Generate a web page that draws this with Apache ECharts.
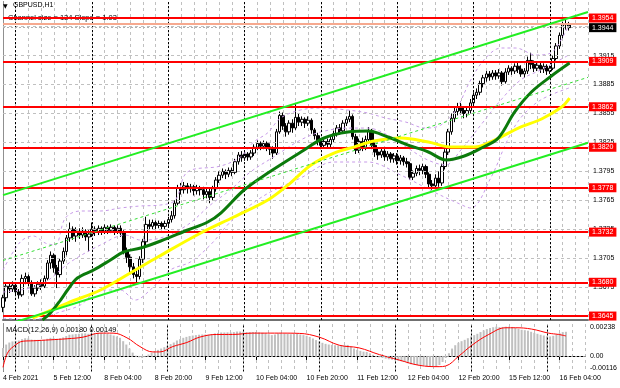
<!DOCTYPE html>
<html><head><meta charset="utf-8">
<script src="https://cdn.jsdelivr.net/npm/echarts@6/dist/echarts.min.js"></script>
<style>html,body{margin:0;padding:0;background:#fff}#c{width:620px;height:388px}</style>
</head><body><div id="c"></div>
<script>
// ---------- DATA ----------
// hourly bars from 4 Feb 2021 20:00 to 16 Feb 2021 06:00 : [open, close, low, high]
const candles = [
[1.3654,1.3664,1.3649,1.3667],[1.3664,1.3676,1.3660,1.3679],[1.3676,1.3673,1.3669,1.3680],[1.3673,1.3677,1.3670,1.3681],
[1.3677,1.3670,1.3666,1.3679],[1.3670,1.3667,1.3663,1.3673],[1.3667,1.3684,1.3665,1.3688],[1.3684,1.3686,1.3678,1.3690],
[1.3686,1.3679,1.3676,1.3688],[1.3679,1.3668,1.3666,1.3682],[1.3668,1.3674,1.3665,1.3677],[1.3674,1.3678,1.3671,1.3681],
[1.3678,1.3676,1.3672,1.3683],[1.3676,1.3684,1.3674,1.3687],[1.3684,1.3700,1.3682,1.3703],[1.3700,1.3708,1.3694,1.3712],
[1.3708,1.3695,1.3690,1.3710],[1.3695,1.3688,1.3674,1.3698],[1.3688,1.3702,1.3685,1.3705],[1.3702,1.3712,1.3699,1.3716],
[1.3712,1.3726,1.3708,1.3729],[1.3726,1.3735,1.3722,1.3742],[1.3735,1.3728,1.3724,1.3738],[1.3728,1.3733,1.3722,1.3737],
[1.3733,1.3729,1.3725,1.3736],[1.3729,1.3733,1.3726,1.3737],[1.3733,1.3727,1.3723,1.3735],[1.3727,1.3730,1.3712,1.3734],
[1.3730,1.3735,1.3727,1.3742],[1.3735,1.3732,1.3728,1.3738],[1.3732,1.3736,1.3729,1.3739],[1.3736,1.3733,1.3729,1.3738],
[1.3733,1.3737,1.3730,1.3740],[1.3737,1.3734,1.3730,1.3739],[1.3734,1.3737,1.3731,1.3740],[1.3737,1.3733,1.3729,1.3739],
[1.3733,1.3736,1.3730,1.3739],[1.3736,1.3731,1.3727,1.3739],[1.3731,1.3712,1.3709,1.3734],[1.3712,1.3706,1.3700,1.3716],
[1.3706,1.3696,1.3690,1.3709],[1.3696,1.3688,1.3684,1.3700],[1.3688,1.3686,1.3680,1.3693],[1.3686,1.3704,1.3683,1.3707],
[1.3704,1.3722,1.3700,1.3725],[1.3722,1.3740,1.3718,1.3748],[1.3740,1.3738,1.3734,1.3745],[1.3738,1.3742,1.3735,1.3745],
[1.3742,1.3739,1.3735,1.3744],[1.3739,1.3741,1.3736,1.3744],[1.3741,1.3738,1.3734,1.3743],[1.3738,1.3741,1.3735,1.3744],
[1.3741,1.3745,1.3738,1.3748],[1.3745,1.3749,1.3742,1.3754],[1.3749,1.3762,1.3746,1.3765],[1.3762,1.3778,1.3760,1.3781],
[1.3778,1.3776,1.3771,1.3783],[1.3776,1.3780,1.3772,1.3784],[1.3780,1.3777,1.3772,1.3783],[1.3777,1.3779,1.3773,1.3782],
[1.3779,1.3775,1.3770,1.3781],[1.3775,1.3778,1.3771,1.3781],[1.3778,1.3776,1.3770,1.3780],[1.3776,1.3771,1.3766,1.3779],
[1.3771,1.3774,1.3767,1.3778],[1.3774,1.3768,1.3762,1.3777],[1.3768,1.3777,1.3765,1.3780],[1.3777,1.3786,1.3774,1.3789],
[1.3786,1.3791,1.3783,1.3795],[1.3791,1.3795,1.3788,1.3798],[1.3795,1.3792,1.3787,1.3797],[1.3792,1.3796,1.3789,1.3799],
[1.3796,1.3794,1.3790,1.3799],[1.3794,1.3805,1.3792,1.3808],[1.3805,1.3812,1.3802,1.3815],[1.3812,1.3809,1.3805,1.3816],
[1.3809,1.3813,1.3806,1.3816],[1.3813,1.3810,1.3806,1.3815],[1.3810,1.3814,1.3807,1.3817],[1.3814,1.3820,1.3811,1.3823],
[1.3820,1.3824,1.3817,1.3827],[1.3824,1.3821,1.3817,1.3826],[1.3821,1.3824,1.3818,1.3827],[1.3824,1.3820,1.3816,1.3826],
[1.3820,1.3818,1.3812,1.3824],[1.3818,1.3814,1.3808,1.3821],[1.3814,1.3836,1.3812,1.3839],[1.3836,1.3853,1.3834,1.3857],
[1.3853,1.3842,1.3838,1.3856],[1.3842,1.3836,1.3831,1.3845],[1.3836,1.3845,1.3833,1.3848],[1.3845,1.3840,1.3835,1.3849],
[1.3840,1.3851,1.3838,1.3866],[1.3851,1.3846,1.3842,1.3855],[1.3846,1.3849,1.3842,1.3852],[1.3849,1.3845,1.3840,1.3851],
[1.3845,1.3848,1.3842,1.3852],[1.3848,1.3838,1.3834,1.3850],[1.3838,1.3832,1.3828,1.3840],[1.3832,1.3826,1.3822,1.3835],
[1.3826,1.3822,1.3818,1.3829],[1.3822,1.3826,1.3819,1.3829],[1.3826,1.3823,1.3819,1.3829],[1.3823,1.3828,1.3820,1.3831],
[1.3828,1.3834,1.3825,1.3837],[1.3834,1.3840,1.3831,1.3843],[1.3840,1.3837,1.3833,1.3844],[1.3837,1.3845,1.3834,1.3848],
[1.3845,1.3849,1.3842,1.3852],[1.3849,1.3852,1.3846,1.3858],[1.3852,1.3831,1.3828,1.3854],[1.3831,1.3817,1.3813,1.3834],
[1.3817,1.3826,1.3814,1.3829],[1.3826,1.3820,1.3816,1.3830],[1.3820,1.3828,1.3817,1.3832],[1.3828,1.3837,1.3825,1.3841],
[1.3837,1.3822,1.3818,1.3839],[1.3822,1.3815,1.3810,1.3825],[1.3815,1.3812,1.3807,1.3819],[1.3812,1.3816,1.3809,1.3819],
[1.3816,1.3810,1.3806,1.3818],[1.3810,1.3813,1.3806,1.3816],[1.3813,1.3808,1.3804,1.3815],[1.3808,1.3811,1.3804,1.3814],
[1.3811,1.3806,1.3802,1.3814],[1.3806,1.3809,1.3802,1.3812],[1.3809,1.3805,1.3801,1.3811],[1.3805,1.3803,1.3799,1.3809],
[1.3803,1.3789,1.3786,1.3805],[1.3789,1.3793,1.3786,1.3796],[1.3793,1.3798,1.3790,1.3801],[1.3798,1.3796,1.3791,1.3802],
[1.3796,1.3800,1.3792,1.3803],[1.3800,1.3792,1.3788,1.3802],[1.3792,1.3782,1.3778,1.3794],[1.3782,1.3780,1.3776,1.3786],
[1.3780,1.3788,1.3777,1.3792],[1.3788,1.3783,1.3779,1.3795],[1.3783,1.3800,1.3780,1.3803],[1.3800,1.3815,1.3797,1.3818],
[1.3815,1.3836,1.3812,1.3839],[1.3836,1.3850,1.3833,1.3855],[1.3850,1.3857,1.3846,1.3862],[1.3857,1.3862,1.3853,1.3866],
[1.3862,1.3858,1.3854,1.3866],[1.3858,1.3855,1.3850,1.3862],[1.3855,1.3858,1.3851,1.3861],[1.3858,1.3866,1.3855,1.3870],
[1.3866,1.3874,1.3862,1.3877],[1.3874,1.3877,1.3870,1.3881],[1.3877,1.3886,1.3874,1.3889],[1.3886,1.3892,1.3882,1.3895],
[1.3892,1.3896,1.3888,1.3899],[1.3896,1.3893,1.3889,1.3899],[1.3893,1.3897,1.3890,1.3900],[1.3897,1.3894,1.3890,1.3900],
[1.3894,1.3897,1.3891,1.3901],[1.3897,1.3888,1.3884,1.3899],[1.3888,1.3898,1.3886,1.3902],[1.3898,1.3902,1.3895,1.3905],
[1.3902,1.3899,1.3895,1.3904],[1.3899,1.3904,1.3896,1.3907],[1.3904,1.3901,1.3897,1.3908],[1.3901,1.3896,1.3893,1.3905],
[1.3896,1.3899,1.3892,1.3902],[1.3899,1.3910,1.3896,1.3914],[1.3910,1.3906,1.3901,1.3918],[1.3906,1.3902,1.3898,1.3910],
[1.3902,1.3905,1.3899,1.3908],[1.3905,1.3901,1.3897,1.3908],[1.3901,1.3904,1.3897,1.3907],[1.3904,1.3899,1.3895,1.3906],
[1.3899,1.3902,1.3896,1.3905],[1.3902,1.3912,1.3900,1.3915],[1.3912,1.3925,1.3910,1.3928],[1.3925,1.3936,1.3922,1.3939],
[1.3936,1.3947,1.3933,1.3950],[1.3947,1.3948,1.3942,1.3953],[1.3948,1.3944,1.3941,1.3950]
];

// MACD(12,26,9) histogram, one value per bar
const macdHist = [
0.00060,0.00085,0.00100,0.00108,0.00112,0.00115,0.00125,0.00132,0.00130,0.00122,
0.00120,0.00120,0.00118,0.00120,0.00128,0.00135,0.00133,0.00128,0.00132,0.00138,
0.00148,0.00158,0.00160,0.00163,0.00165,0.00168,0.00168,0.00165,0.00168,0.00170,
0.00172,0.00170,0.00168,0.00165,0.00160,0.00152,0.00145,0.00135,0.00110,0.00085,
0.00055,0.00025,0.00002,-0.00010,-0.00015,-0.00005,0.00010,0.00025,0.00035,0.00045,
0.00055,0.00065,0.00075,0.00088,0.00100,0.00115,0.00125,0.00135,0.00142,0.00148,
0.00152,0.00155,0.00158,0.00160,0.00160,0.00158,0.00162,0.00168,0.00172,0.00175,
0.00175,0.00176,0.00175,0.00178,0.00182,0.00182,0.00180,0.00178,0.00178,0.00178,
0.00178,0.00175,0.00172,0.00168,0.00162,0.00155,0.00160,0.00168,0.00168,0.00165,
0.00164,0.00162,0.00165,0.00164,0.00160,0.00155,0.00150,0.00142,0.00130,0.00118,
0.00108,0.00098,0.00090,0.00085,0.00082,0.00080,0.00078,0.00078,0.00080,0.00082,
0.00070,0.00055,0.00045,0.00038,0.00032,0.00030,0.00020,0.00008,-0.00002,-0.00010,
-0.00015,-0.00020,-0.00025,-0.00028,-0.00032,-0.00036,-0.00040,-0.00044,-0.00055,-0.00062,
-0.00065,-0.00068,-0.00070,-0.00072,-0.00078,-0.00082,-0.00082,-0.00080,-0.00068,-0.00045,
-0.00015,0.00020,0.00055,0.00080,0.00098,0.00110,0.00120,0.00132,0.00145,0.00155,
0.00165,0.00178,0.00190,0.00200,0.00208,0.00214,0.00218,0.00215,0.00216,0.00218,
0.00218,0.00216,0.00210,0.00202,0.00195,0.00192,0.00188,0.00180,0.00172,0.00165,
0.00158,0.00152,0.00146,0.00145,0.00150,0.00160,0.00170,0.00178,0.00180
];
// MACD signal line, [bar, value]
const macdSignal = [[0,-0.00085],[1.4,0.0002],[3.3,0.0007],[6.4,0.0011],[9.6,0.00113],[14.9,0.0012],[20.3,0.00128],
[25.3,0.0014],[30.7,0.0017],[34.8,0.0017],[39.2,0.00135],[43.3,0.0007],[47.4,0.0003],[49.6,0.0003],[53.7,0.0007],
[58.1,0.0010],[62.2,0.0014],[67.6,0.0016],[72.6,0.0016],[78.9,0.0017],[88.4,0.0017],[93.7,0.00168],[100,0.0014],
[106.3,0.0008],[112.6,0.0006],[119,0.0001],[125.2,-0.0003],[131.6,-0.0007],[137.9,-0.0008],[140,-0.00075],
[144.2,0.0000],[148.3,0.0008],[153.6,0.0016],[159,0.0021],[162.1,0.0021],[167.2,0.0020],[172.5,0.0017],[175.7,0.0016],[178,0.00149]];

// moving averages, [bar, price]
const maGreen = [[12.4,1.36409],[14.9,1.36481],[18.1,1.36616],[20.3,1.36720],[23.4,1.36844],[28.5,1.36927],[33.8,1.37031],
[37.9,1.37114],[43.3,1.37155],[49.6,1.37228],[58.1,1.37342],[64.4,1.37425],[68.5,1.37518],[75.8,1.37757],[83.3,1.37933],
[93.7,1.38151],[101.0,1.38296],[108.5,1.38358],[114.8,1.38368],[121.1,1.38306],[127.4,1.38223],[133.8,1.38151],
[139.4,1.38068],[145.1,1.38109],[150.5,1.38192],[155.8,1.38296],[160.9,1.38565],[166.2,1.38773],[172.5,1.38939],[178.2,1.39073]];
const maYellow = [[9.3,1.36429],[20.3,1.36585],[30.7,1.36720],[41.1,1.36917],[48.7,1.37062],[62.2,1.37311],[72.6,1.37477],
[83.3,1.37653],[89.6,1.37808],[96.9,1.38016],[104.1,1.38140],[110.4,1.38202],[116.7,1.38265],[125.2,1.38296],[133.8,1.38254],
[141.0,1.38202],[148.3,1.38202],[154.6,1.38275],[162.1,1.38399],[169.4,1.38493],[175.7,1.38617],[178.2,1.38710]];

// Bollinger bands, [bar, price]
const bbUpper = [[0,1.36927],[5.4,1.37217],[9.5,1.37280],[13.3,1.37207],[16.4,1.37186],[19.6,1.37466],[24.3,1.37539],
[30.6,1.37539],[36.9,1.37570],[43.2,1.37591],[49.5,1.37601],[54.2,1.37653],[58.0,1.37943],[68.4,1.38005],[74.7,1.38099],
[78.8,1.38254],[83.2,1.38348],[87.3,1.38503],[93.6,1.38586],[99.9,1.38607],[108.4,1.38586],[114.7,1.38555],[120.3,1.38503],
[126.6,1.38462],[132.9,1.38399],[137.7,1.38430],[142.4,1.38586],[147.1,1.38897],[151.8,1.39125],[156.6,1.39229],
[161.3,1.39229],[167.6,1.39156],[172.3,1.39177],[175.5,1.39312],[178.0,1.39467]];
const bbMiddle = [[0,1.36699],[11.7,1.36772],[21.2,1.37010],[30.6,1.37186],[38.5,1.37290],[43.2,1.37238],[49.5,1.37259],
[58.0,1.37394],[65.2,1.37601],[71.5,1.37757],[77.8,1.37943],[85.1,1.38099],[93.6,1.38275],[99.9,1.38358],[108.4,1.38399],
[114.7,1.38399],[121.0,1.38327],[127.3,1.38192],[133.6,1.38068],[139.2,1.38016],[144.0,1.38171],[150.3,1.38431],
[156.6,1.38690],[162.8,1.38897],[169.1,1.39001],[178.0,1.39156]];
const bbLower = [[0,1.36429],[8.6,1.36409],[18.0,1.36492],[24.3,1.36564],[30.6,1.36720],[36.9,1.36720],[41.6,1.36616],
[46.3,1.36720],[52.6,1.36927],[58.9,1.37010],[65.2,1.37186],[71.5,1.37425],[77.8,1.37601],[84.1,1.37736],[93.6,1.37881],
[104.0,1.38047],[114.7,1.38047],[125.1,1.37912],[135.5,1.37736],[143.0,1.37622],[147.1,1.37570],[153.4,1.37881],
[158.7,1.38275],[162.8,1.38503],[169.1,1.38690],[178.0,1.38814]];

// equidistant channel, [bar, price]
const channelUpper = [[0,1.37704],[184,1.39603]];
const channelMid = [[0,1.37026],[184,1.38925]];
const channelLower = [[0,1.36348],[184,1.38247]];

const levels = [1.3954,1.3909,1.3862,1.3820,1.3778,1.3732,1.3680,1.3645];
const bidPrice = 1.3944;
const askPrice = 1.3948;
const priceTicks = ['1.3645','1.3675','1.3705','1.3735','1.3765','1.3795','1.3825','1.3855','1.3885','1.3915','1.3945'];
const macdTicks = [['0.00238',0.00238],['0.00',0],['-0.00116',-0.00116]];
const timeLabels = ['4 Feb 2021','5 Feb 12:00','8 Feb 04:00','8 Feb 20:00','9 Feb 12:00','10 Feb 04:00','10 Feb 20:00',
'11 Feb 12:00','12 Feb 04:00','12 Feb 20:00','15 Feb 12:00','16 Feb 04:00'];
const daySeparators = [4,28,52,76,100,124,148,172];
const SLOTS = 185;

// ---------- CHART ----------
const cats = Array.from({length: SLOTS}, (_, i) => String(i));
const FONT = 'Liberation Sans, Arial, sans-serif';
const FS = 7;
const gridDash = () => ({color: '#c0c0c0', width: 1, type: [3, 3]});
const sepStyle = () => ({color: '#000', width: 1, type: [2, 2]});
const chart = echarts.init(document.getElementById('c'), null, {renderer: 'canvas'});

const lineS = (data, color, width, z, dash, smooth) => ({
  type: 'line', xAxisIndex: 2, yAxisIndex: 0, data, symbol: 'none', z,
  smooth: smooth === undefined ? 0.35 : smooth, silent: true,
  lineStyle: {color, width, type: dash || 'solid'}
});
const ML = (data) => ({symbol: 'none', silent: true, animation: false, precision: 6, data});
const macdLabel = (v) => {
  const hit = macdTicks.find(([, t]) => Math.abs(t - v) < 1e-7);
  return hit ? hit[0] : '';
};

chart.setOption({
  animation: false,
  textStyle: {fontFamily: FONT},
  grid: [
    {left: 3, width: 585, top: 2, height: 318},
    {left: 3, width: 585, top: 324, height: 47.5}
  ],
  xAxis: [
    {type: 'category', gridIndex: 0, data: cats, boundaryGap: false,
     axisLine: {show: true, lineStyle: {color: '#707070', width: 2}}, axisTick: {show: false}, axisLabel: {show: false},
     splitLine: {show: true, interval: (i) => i % 4 === 0, lineStyle: gridDash()}},
    {type: 'category', gridIndex: 1, data: cats, boundaryGap: false, position: 'bottom',
     axisLine: {show: true, lineStyle: {color: '#000', width: 1}},
     axisTick: {show: true, interval: (i) => i % 16 === 0, length: 4, lineStyle: {color: '#000'}},
     axisLabel: {show: true, interval: (i) => i % 16 === 0, align: 'left', margin: 3, fontSize: FS, color: '#000',
       formatter: (v, i) => (i % 16 === 0 && timeLabels[i / 16]) ? timeLabels[i / 16] : ''},
     splitLine: {show: true, interval: (i) => i % 4 === 0, lineStyle: gridDash()}},
    {type: 'value', gridIndex: 0, min: 0, max: SLOTS - 1, show: false},
    {type: 'value', gridIndex: 1, min: 0, max: SLOTS - 1, show: false}
  ],
  yAxis: [
    {type: 'value', gridIndex: 0, position: 'right', min: 1.36409, max: 1.39706, scale: true,
     axisLine: {show: true, lineStyle: {color: '#000'}}, axisTick: {show: false}, axisLabel: {show: false}, splitLine: {show: false}},
    {type: 'value', gridIndex: 1, position: 'right', min: macdTicks[2][1], max: macdTicks[0][1],
     axisLine: {show: true, lineStyle: {color: '#000'}}, axisTick: {show: false}, splitLine: {show: false},
     axisLabel: {show: true, showMinLabel: true, showMaxLabel: true, margin: 5, fontSize: FS, color: '#000',
       verticalAlignMaxLabel: 'top', verticalAlignMinLabel: 'bottom', formatter: macdLabel}},
    {type: 'value', gridIndex: 0, position: 'left', min: 0, max: 1,
     axisLine: {show: true, lineStyle: {color: '#909090'}}, axisTick: {show: false}, axisLabel: {show: false}, splitLine: {show: false}},
    {type: 'value', gridIndex: 1, position: 'left', min: 0, max: 1,
     axisLine: {show: true, lineStyle: {color: '#909090'}}, axisTick: {show: false}, axisLabel: {show: false}, splitLine: {show: false}}
  ],
  graphic: [
    {type: 'text', left: 3, top: 3, z: 50, style: {text: '▼', font: '6px DejaVu Sans', fill: '#000'}},
    {type: 'text', left: 13, top: 2, z: 50, style: {text: 'GBPUSD,H1', font: '7px ' + FONT, fill: '#000'}},
    {type: 'text', left: 8, top: 14, z: 1, style: {text: 'Channel size = 134 Slope = 1.03', font: '7.5px ' + FONT, fill: '#000'}},
    {type: 'text', left: 6, top: 326, z: 50, style: {text: 'MACD(12,26,9) 0.00180 0.00149', font: '7.5px ' + FONT, fill: '#000'}}
  ],
  series: [
    // horizontal grid lines with price tick labels
    {type: 'line', xAxisIndex: 2, yAxisIndex: 0, data: [], z: 1, silent: true,
     markLine: ML(priceTicks.map(t => ({yAxis: parseFloat(t), name: t, lineStyle: gridDash(),
        label: {show: true, position: 'end', distance: 5, formatter: (p) => p.name, color: '#000', fontSize: FS, fontFamily: FONT}})))},
    // day separators (main pane)
    {type: 'line', xAxisIndex: 2, yAxisIndex: 0, data: [], z: 2, silent: true,
     markLine: ML(daySeparators.map(d => ({xAxis: d, lineStyle: sepStyle(), label: {show: false}})))},
    {type: 'candlestick', xAxisIndex: 0, yAxisIndex: 0, data: candles, barWidth: 3, z: 3, silent: true,
     itemStyle: {color: '#ffffff', color0: '#000000', borderColor: '#000000', borderColor0: '#000000', borderWidth: 1}},
    lineS(bbUpper, '#c79be8', 1, 4, [3, 3]),
    lineS(bbMiddle, '#c79be8', 1, 4, [3, 3]),
    lineS(bbLower, '#c79be8', 1, 4, [3, 3]),
    lineS(maYellow, '#ffff00', 3, 5),
    lineS(maGreen, '#0b7a0b', 3, 5),
    lineS(channelMid, '#33dd33', 1, 6, [3, 3], false),
    lineS(channelUpper, '#22ee22', 2, 6, 'solid', false),
    lineS(channelLower, '#22ee22', 2, 6, 'solid', false),
    // ask and bid lines
    {type: 'line', xAxisIndex: 2, yAxisIndex: 0, data: [], z: 7, silent: true,
     markLine: ML([
         {yAxis: askPrice, lineStyle: {color: '#f6a98f', width: 2, type: 'solid'}, label: {show: false}},
         {yAxis: bidPrice, name: bidPrice.toFixed(4), lineStyle: {color: '#b0b0b0', width: 1, type: [2, 2]},
          label: {show: true, position: 'end', distance: 1, formatter: (p) => p.name, color: '#fff', backgroundColor: '#000',
                  padding: [1, 3, 1, 3], fontSize: FS, fontFamily: FONT}}])},
    // horizontal levels
    {type: 'line', xAxisIndex: 2, yAxisIndex: 0, data: [], z: 8, silent: true,
     markLine: ML(levels.map(v => ({yAxis: v, name: v.toFixed(4), lineStyle: {color: '#ff0000', width: 2, type: 'solid'},
          label: {show: true, position: 'end', distance: 1, formatter: (p) => p.name, color: '#fff', backgroundColor: '#ff0000',
                  padding: [1, 3, 1, 3], fontSize: FS, fontFamily: FONT}})))},
    // MACD
    {type: 'bar', xAxisIndex: 1, yAxisIndex: 1, data: macdHist, barWidth: 2, z: 2, silent: true,
     itemStyle: {color: '#c0c0c0'}},
    {type: 'line', xAxisIndex: 3, yAxisIndex: 1, data: [], z: 3, silent: true,
     markLine: ML([
       ...daySeparators.map(d => ({xAxis: d, lineStyle: sepStyle(), label: {show: false}})),
       {yAxis: 0, lineStyle: {color: '#a0a0a0', width: 1, type: [2, 2]}, label: {show: false}}])},
    {type: 'line', xAxisIndex: 3, yAxisIndex: 1, data: macdSignal, symbol: 'none', smooth: 0.4, z: 4, silent: true,
     lineStyle: {color: '#ff0000', width: 1}}
  ]
});
</script>
</body></html>
